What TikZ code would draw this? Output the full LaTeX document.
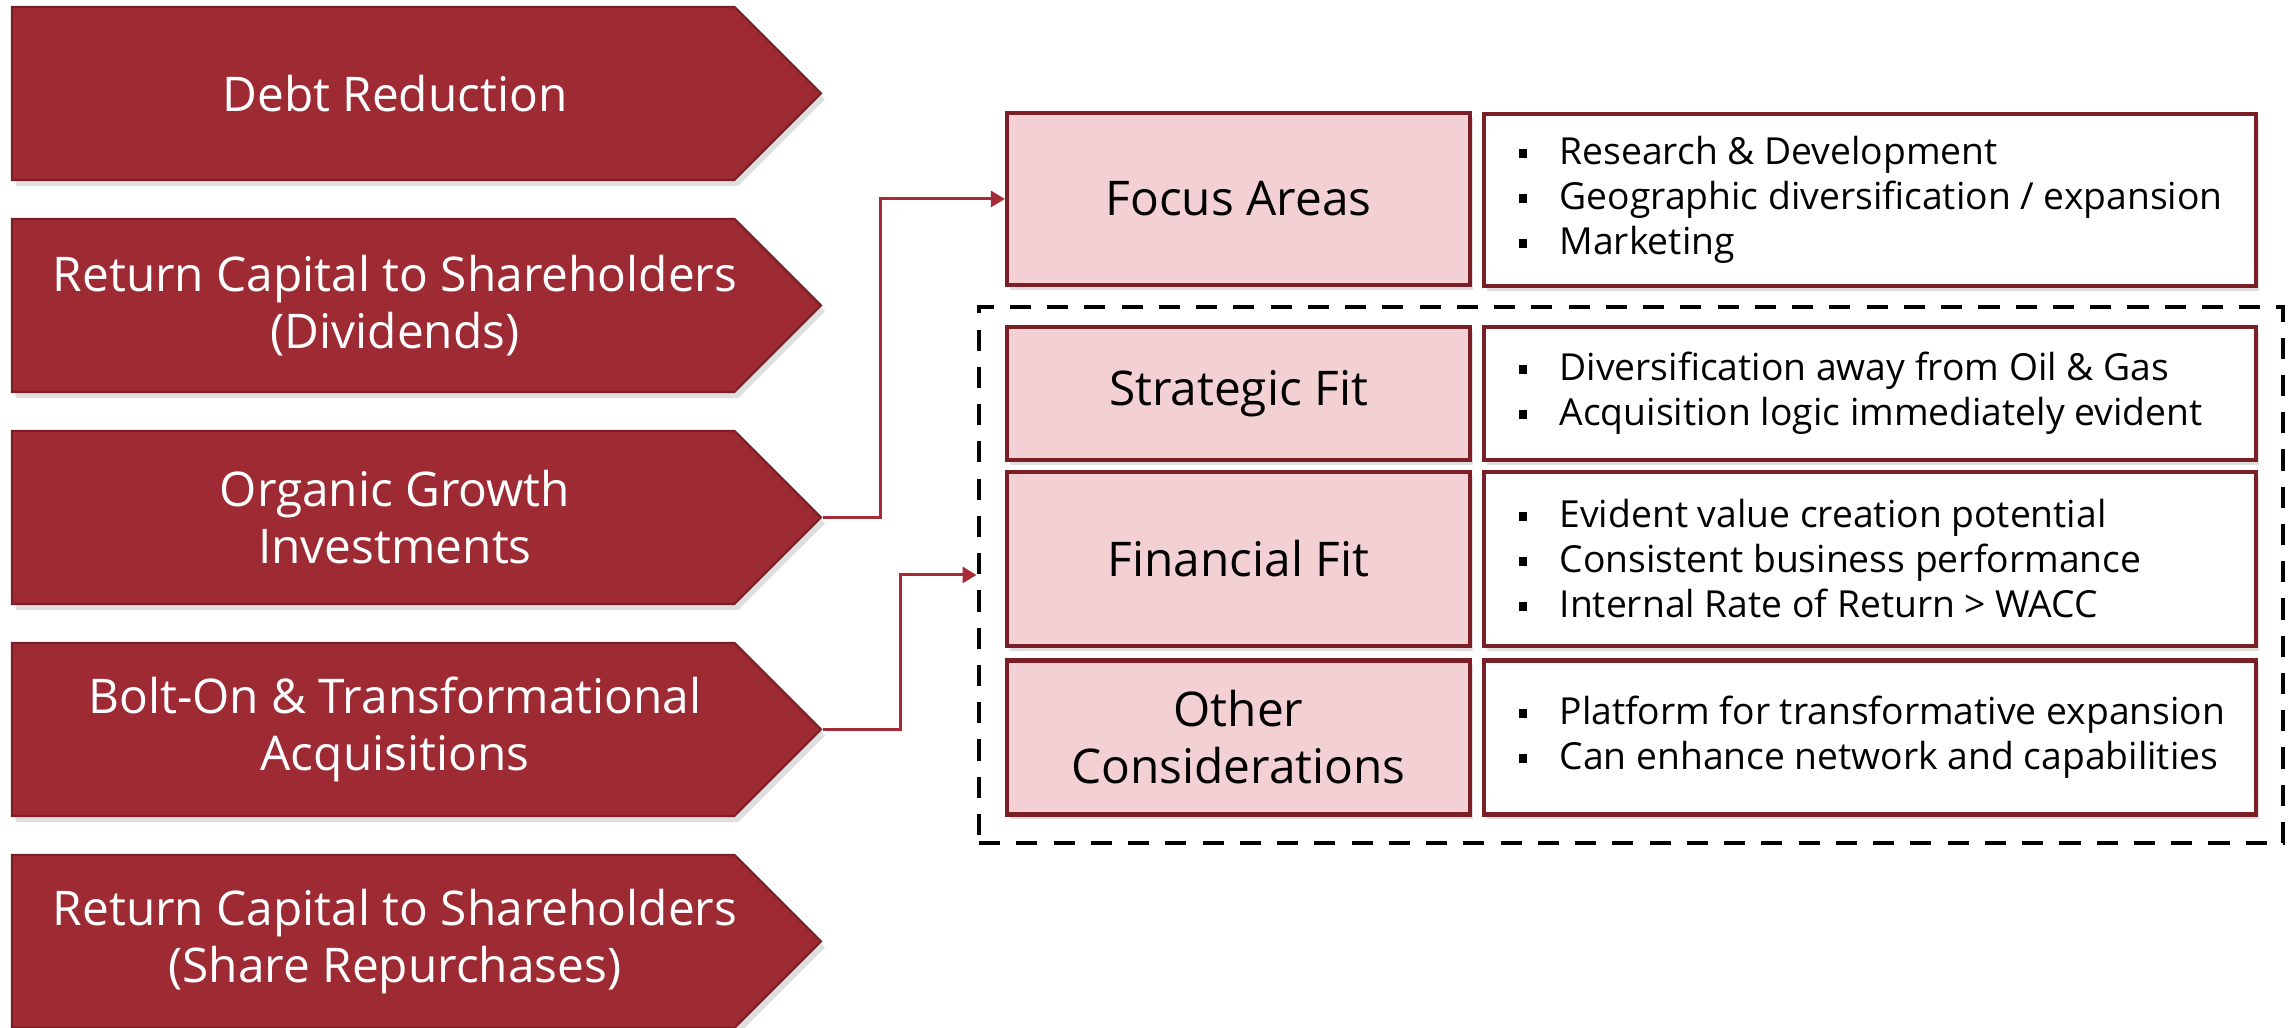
\documentclass[tikz,border=0pt]{standalone}
\usepackage{fontspec}
\setmainfont{Open Sans}
\usepackage{tikz}
\usetikzlibrary{arrows.meta,positioning,shapes.symbols,shadows}
\definecolor{capred}{HTML}{9E2A33}
\definecolor{capedge}{HTML}{7A1F26}
\definecolor{cellpink}{HTML}{F2D0D3}
\definecolor{linkred}{HTML}{A52C37}
\tikzset{bigarrow/.style={signal,signal to=east,signal pointer angle=90,draw=capedge,line width=0.6pt,fill=capred,minimum width=8.09cm,minimum height=1.73cm,inner sep=0,drop shadow={opacity=0.25,shadow xshift=0.04cm,shadow yshift=-0.06cm}},
    arrowtext/.style={text=white,align=center,font=\fontsize{13.6}{16.2}\selectfont},
    pinkcell/.style={draw=capedge,line width=1.2pt,fill=cellpink,minimum width=4.63cm,align=center,font=\fontsize{13.6}{16.2}\selectfont,drop shadow={opacity=0.25,shadow xshift=0.03cm,shadow yshift=-0.05cm}},
    listcell/.style={draw=capedge,line width=1.2pt,fill=white,minimum width=7.72cm,drop shadow={opacity=0.25,shadow xshift=0.03cm,shadow yshift=-0.05cm}},
    listtext/.style={anchor=west,align=left,inner sep=0,font=\fontsize{10.6}{12.8}\selectfont},
    dashframe/.style={draw,line width=1.4pt,dash pattern=on 6pt off 4.6pt,minimum width=13.04cm,minimum height=5.36cm},
    elbow/.style={draw=linkred,line width=0.85pt,-{Triangle[length=0.14cm,width=0.16cm]}}}
\newcommand{\sqbul}{\makebox[0.41cm][l]{\rule[0.07cm]{0.08cm}{0.09cm}}}

\begin{document}
\begin{tikzpicture}
\useasboundingbox (0,0) rectangle (22.92,10.28);

\node (debt) [bigarrow] at (3.7325,9.345) {};
\node (debt-t) [arrowtext] at ([xshift=0.2175cm]debt.center) {Debt Reduction};

\node (divid) [bigarrow] at (3.7325,7.225) {};
\node (divid-t) [arrowtext] at ([xshift=0.2175cm]divid.center) {Return Capital to Shareholders\\(Dividends)};

\node (organic) [bigarrow] at (3.7325,5.105) {};
\node (organic-t) [arrowtext] at ([xshift=0.2175cm]organic.center) {Organic Growth\\Investments};

\node (bolt) [bigarrow] at (3.7325,2.985) {};
\node (bolt-t) [arrowtext] at ([xshift=0.2175cm]bolt.center) {Bolt-On \& Transformational\\Acquisitions};

\node (repur) [bigarrow] at (3.7325,0.865) {};
\node (repur-t) [arrowtext] at ([xshift=0.2175cm]repur.center) {Return Capital to Shareholders\\(Share Repurchases)};

\node (criteria) [dashframe] at (16.31,4.53) {};

\node (focus) [pinkcell,minimum height=1.72cm] at (12.385,8.29) {Focus Areas};
\node (focus-l) [listcell,minimum height=1.72cm] at (18.70,8.28) {};
\node (focus-b) [listtext] at ([xshift=0.36cm]focus-l.west) {\sqbul Research \& Development\\\sqbul Geographic diversification / expansion\\\sqbul Marketing};

\node (strat) [pinkcell,minimum height=1.33cm] at (12.385,6.345) {Strategic Fit};
\node (strat-l) [listcell,minimum height=1.33cm] at (18.70,6.345) {};
\node (strat-b) [listtext] at ([xshift=0.36cm]strat-l.west) {\sqbul Diversification away from Oil \& Gas\\\sqbul Acquisition logic immediately evident};

\node (fin) [pinkcell,minimum height=1.74cm] at (12.385,4.69) {Financial Fit};
\node (fin-l) [listcell,minimum height=1.74cm] at (18.70,4.69) {};
\node (fin-b) [listtext] at ([xshift=0.36cm]fin-l.west) {\sqbul Evident value creation potential\\\sqbul Consistent business performance\\\sqbul Internal Rate of Return > WACC};

\node (other) [pinkcell,minimum height=1.54cm] at (12.385,2.905) {Other\\Considerations};
\node (other-l) [listcell,minimum height=1.54cm] at (18.70,2.905) {};
\node (other-b) [listtext] at ([xshift=0.36cm]other-l.west) {\sqbul Platform for transformative expansion\\\sqbul Can enhance network and capabilities};

\draw [elbow] (organic.east) -- ++(0.58,0) |- (focus.west);
\draw [elbow] (bolt.east) -- ++(0.78,0) |- (criteria.west);

\end{tikzpicture}
\end{document}
